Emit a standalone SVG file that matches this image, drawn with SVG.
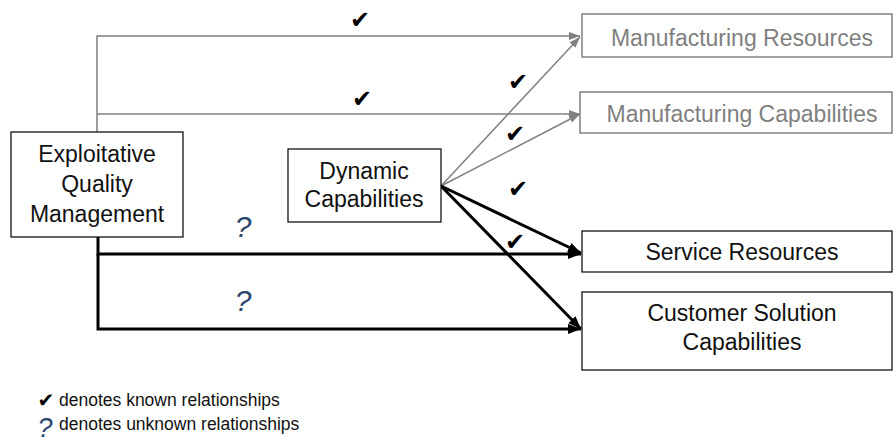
<svg xmlns="http://www.w3.org/2000/svg" width="893" height="443" viewBox="0 0 893 443">
<defs>
<marker id="ag" markerUnits="userSpaceOnUse" markerWidth="12" markerHeight="10" refX="11" refY="5" orient="auto"><path d="M0,1 L11,5 L0,9 Z" fill="#808080"/></marker>
<marker id="ab" markerUnits="userSpaceOnUse" markerWidth="14" markerHeight="12" refX="13" refY="6" orient="auto"><path d="M0,1 L13,6 L0,11 Z" fill="#000"/></marker>
</defs>
<style>
text{font-family:"Liberation Sans",Arial,sans-serif;}
.box{fill:#fff;stroke:#000;stroke-width:1.2}
.gbox{fill:#fff;stroke:#808080;stroke-width:1.5}
.t{font-size:23px;fill:#111;text-anchor:middle}
.gt{font-size:23px;fill:#7f7f7f;text-anchor:middle}
.g{fill:none;stroke:#808080;stroke-width:1.5}
.b{fill:none;stroke:#000;stroke-width:3}
.ck{font-family:"DejaVu Sans",sans-serif;font-size:24px;fill:#000;text-anchor:middle}
.ckl{font-family:"DejaVu Sans",sans-serif;font-size:20px;fill:#000;text-anchor:middle}
.q{font-family:"Liberation Sans",sans-serif;font-style:italic;font-size:30px;fill:#2c4770;text-anchor:middle}
.ql{font-family:"Liberation Sans",sans-serif;font-style:italic;font-size:27px;fill:#2c4770;text-anchor:middle}
.lg{font-size:17.5px;fill:#111}
</style>
<g id="connectors">
<path class="g" d="M97,132 V36 H580" marker-end="url(#ag)"/>
<path class="g" d="M97,114 H580" marker-end="url(#ag)"/>
<path class="g" d="M441,186 L580,37" marker-end="url(#ag)"/>
<path class="g" d="M441,186 L580,114" marker-end="url(#ag)"/>
<path class="b" d="M98,237 V254 H581" marker-end="url(#ab)"/>
<path class="b" d="M98,254 V329 H581" marker-end="url(#ab)"/>
<path class="b" d="M441,186 L581,253" marker-end="url(#ab)"/>
<path class="b" d="M441,186 L581,329" marker-end="url(#ab)"/>
</g>
<g id="labels">
<text class="ck" x="360" y="28">✔</text>
<text class="ck" x="362" y="107">✔</text>
<text class="ck" x="518" y="90">✔</text>
<text class="ck" x="515" y="142">✔</text>
<text class="ck" x="518" y="197">✔</text>
<text class="ck" x="515" y="250">✔</text>
<text class="q" x="243" y="237">?</text>
<text class="q" x="243" y="311">?</text>
</g>
<g id="node-eqm">
<rect class="box" x="11" y="132" width="172" height="105"/>
<text class="t" x="97" y="162">Exploitative</text>
<text class="t" x="97" y="192">Quality</text>
<text class="t" x="97" y="222">Management</text>
</g>
<g id="node-dc">
<rect class="box" x="288" y="149" width="153" height="73"/>
<text class="t" x="364" y="179">Dynamic</text>
<text class="t" x="364" y="207">Capabilities</text>
</g>
<g id="node-mr">
<rect class="gbox" x="582" y="14" width="310" height="43"/>
<text class="gt" x="742" y="46">Manufacturing Resources</text>
</g>
<g id="node-mc">
<rect class="gbox" x="580" y="92" width="312" height="41"/>
<text class="gt" x="742" y="122">Manufacturing Capabilities</text>
</g>
<g id="node-sr">
<rect class="box" x="582" y="231" width="310" height="41"/>
<text class="t" x="742" y="260">Service Resources</text>
</g>
<g id="node-csc">
<rect class="box" x="582" y="292" width="310" height="78"/>
<text class="t" x="742" y="321">Customer Solution</text>
<text class="t" x="742" y="350">Capabilities</text>
</g>
<g id="legend">
<text class="ckl" x="46" y="407">✔</text>
<text class="lg" x="59" y="406">denotes known relationships</text>
<text class="ql" x="45" y="437">?</text>
<text class="lg" x="59" y="430">denotes unknown relationships</text>
</g>
</svg>
